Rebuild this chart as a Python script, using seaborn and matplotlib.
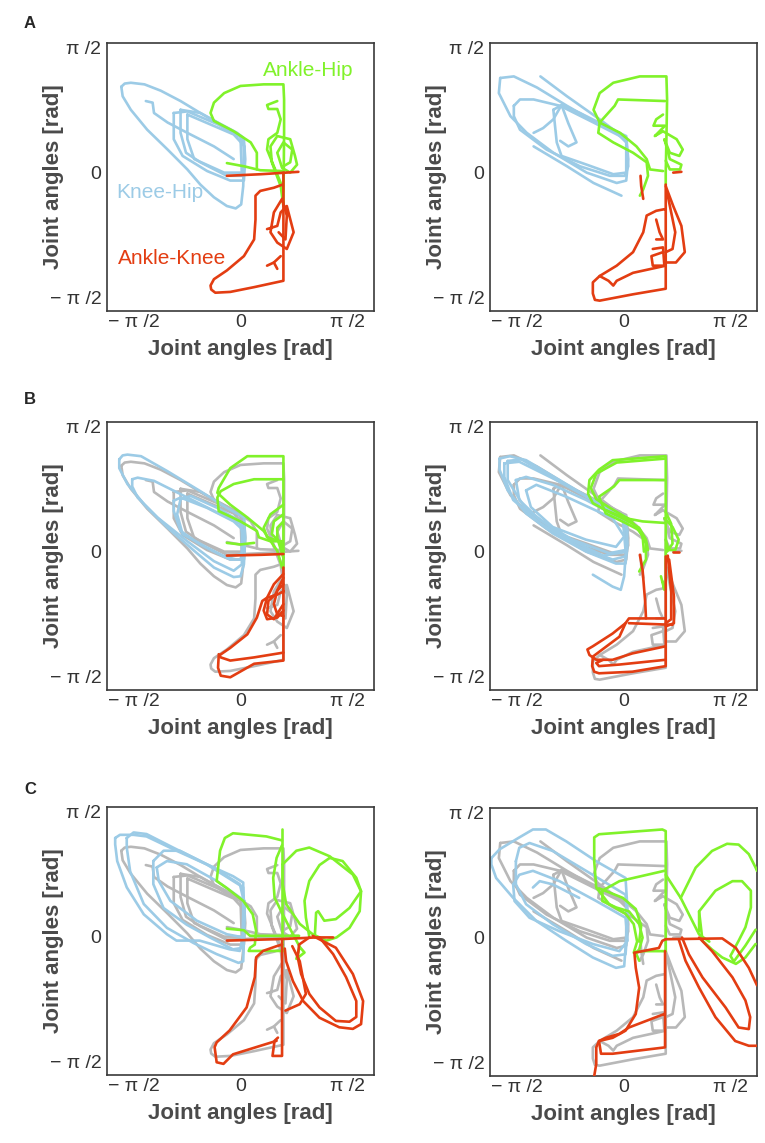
import numpy as np
import pandas as pd
import seaborn as sns
import matplotlib.pyplot as plt

# joint angle trajectories (rad)
# --- panel A, left ---
al_blue = [
    [(-1.75, 1.08), (-1.70, 1.12), (-1.61, 1.13), (-1.41, 1.11), (-1.17, 1.03), (-0.88, 0.90), (-0.59, 0.75),
     (-0.29, 0.61), (-0.05, 0.50), (0.04, 0.44), (0.05, 0.21), (0.04, -0.17), (0.01, -0.40), (-0.07, -0.45),
     (-0.20, -0.42), (-0.39, -0.31), (-0.59, -0.15), (-0.78, 0.04), (-1.07, 0.29), (-1.37, 0.54), (-1.61, 0.79),
     (-1.73, 0.96), (-1.75, 1.08)],
    [(-0.98, 0.75), (-0.78, 0.77), (-0.34, 0.61), (0.05, 0.42), (0.07, 0.17), (0.05, -0.10), (-0.15, -0.10),
     (-0.49, 0.02), (-0.85, 0.21), (-0.98, 0.42), (-0.98, 0.75)],
    [(-0.88, 0.79), (-0.59, 0.75), (0.00, 0.46), (0.02, -0.04), (-0.20, -0.04), (-0.59, 0.13), (-0.80, 0.25),
     (-0.88, 0.50), (-0.88, 0.79)],
    [(-0.78, 0.73), (-0.10, 0.48), (0.06, 0.33), (0.04, 0.00), (-0.24, 0.00), (-0.68, 0.17), (-0.78, 0.42),
     (-0.78, 0.73)],
    [(-1.39, 0.90), (-1.29, 0.88), (-1.27, 0.75), (-1.07, 0.63), (-0.78, 0.50), (-0.39, 0.33), (-0.10, 0.17)],
]
al_green = [
    [(0.63, -0.42), (0.64, 0.50), (0.64, 0.92), (0.63, 1.11), (0.34, 1.11), (0.00, 1.09), (-0.24, 1.00),
     (-0.39, 0.88), (-0.44, 0.75), (-0.39, 0.65), (-0.10, 0.52), (0.15, 0.38), (0.24, 0.25), (0.24, 0.04)],
    [(-0.20, 0.12), (0.05, 0.08), (0.29, 0.03), (0.63, 0.02)],
    [(0.54, 0.90), (0.39, 0.85), (0.41, 0.80), (0.54, 0.80), (0.59, 0.67), (0.54, 0.50), (0.41, 0.42),
     (0.39, 0.29), (0.49, 0.08), (0.61, -0.17), (0.63, -0.42), (0.59, -0.17), (0.46, 0.13), (0.44, 0.33),
     (0.54, 0.46), (0.73, 0.42), (0.80, 0.21), (0.83, 0.10), (0.73, 0.00), (0.61, 0.06), (0.54, 0.25),
     (0.63, 0.38), (0.76, 0.29), (0.73, 0.13), (0.63, 0.08)],
]
al_red = [
    [(-0.20, -0.04), (0.30, -0.02), (0.85, 0.01)],
    [(0.63, 0.00), (0.63, -0.60), (0.63, -1.36), (0.20, -1.44), (-0.15, -1.50), (-0.37, -1.51), (-0.43, -1.47),
     (-0.44, -1.42), (-0.39, -1.34), (-0.20, -1.23), (0.05, -1.05), (0.20, -0.84), (0.22, -0.59), (0.22, -0.29),
     (0.29, -0.23), (0.49, -0.19), (0.62, -0.15)],
    [(0.39, -0.71), (0.54, -0.67), (0.59, -0.50), (0.68, -0.42), (0.78, -0.75), (0.68, -0.96), (0.54, -0.88),
     (0.44, -0.75), (0.49, -0.50), (0.61, -0.33), (0.68, -0.54), (0.66, -0.84), (0.56, -0.75)],
    [(0.39, -1.17), (0.49, -1.13), (0.59, -1.05)],
    [(0.49, -1.13), (0.54, -1.21)],
]

# --- panel A, right ---
ar_blue = [
    [(-1.81, 1.19), (-1.61, 1.21), (-1.27, 1.07), (-0.83, 0.84), (-0.40, 0.63), (0.04, 0.46), (0.07, 0.17),
     (0.04, -0.10), (-0.10, -0.13), (-0.54, 0.00), (-1.03, 0.25), (-1.42, 0.50), (-1.66, 0.71), (-1.83, 1.00),
     (-1.81, 1.19)],
    [(-1.61, 0.84), (-1.52, 0.92), (-1.32, 0.92), (-0.93, 0.84), (-0.44, 0.63), (0.04, 0.42), (0.07, 0.08),
     (0.02, -0.04), (-0.20, -0.04), (-0.64, 0.08), (-1.13, 0.29), (-1.52, 0.54), (-1.61, 0.71), (-1.61, 0.84)],
    [(-1.03, 0.79), (-0.91, 0.85), (-0.64, 0.75), (-0.15, 0.54), (0.04, 0.38), (0.04, 0.00), (-0.15, -0.02),
     (-0.54, 0.10), (-0.91, 0.21), (-0.98, 0.38), (-1.03, 0.79)],
    [(-1.22, 1.21), (-0.83, 0.96), (-0.35, 0.67), (0.04, 0.42)],
    [(-0.03, -0.29), (-0.44, -0.13), (-0.83, 0.08), (-1.32, 0.33)],
    [(-1.32, 0.50), (-1.18, 0.56), (-1.03, 0.67), (-0.91, 0.85), (-0.81, 0.62), (-0.69, 0.38), (-0.81, 0.33),
     (-0.93, 0.40)],
]
ar_green = [
    [(0.62, -0.15), (0.62, 0.00), (0.63, 0.42), (0.64, 0.92), (0.63, 1.21), (0.24, 1.21), (-0.15, 1.13),
     (-0.35, 1.00), (-0.44, 0.79), (-0.35, 0.63), (-0.05, 0.50), (0.19, 0.33), (0.34, 0.17), (0.39, 0.04),
     (0.58, 0.02)],
    [(0.61, 0.90), (-0.08, 0.92), (-0.13, 0.84), (-0.35, 0.63), (-0.37, 0.50), (-0.15, 0.38), (0.14, 0.25),
     (0.34, 0.13), (0.36, -0.04), (0.29, -0.21), (0.24, -0.29)],
    [(0.58, 0.73), (0.48, 0.67), (0.44, 0.59), (0.61, 0.59), (0.46, 0.46), (0.58, 0.52), (0.78, 0.42),
     (0.87, 0.29), (0.82, 0.21), (0.68, 0.25), (0.60, 0.42), (0.64, 0.30), (0.68, 0.17), (0.85, 0.10),
     (0.83, 0.04), (0.68, 0.04), (0.62, 0.15)],
]
ar_red = [
    [(0.25, -0.04), (0.26, -0.17), (0.29, -0.33)],
    [(0.73, 0.00), (0.85, 0.01)],
    [(0.62, -0.15), (0.62, -0.80), (0.62, -1.46), (0.14, -1.53), (-0.35, -1.61), (-0.42, -1.60), (-0.45, -1.52),
     (-0.45, -1.38), (-0.35, -1.30), (-0.10, -1.17), (0.14, -1.00), (0.29, -0.75), (0.34, -0.54), (0.48, -0.48),
     (0.60, -0.46)],
    [(0.62, -1.17), (0.14, -1.26), (-0.10, -1.36), (-0.15, -1.42), (-0.22, -1.36), (-0.35, -1.30)],
    [(0.62, -0.17), (0.73, -0.42), (0.85, -0.67), (0.90, -1.00), (0.77, -1.13), (0.62, -1.13)],
    [(0.64, -0.25), (0.70, -0.50), (0.76, -0.75), (0.72, -0.96), (0.62, -1.00)],
    [(0.43, -0.96), (0.58, -0.94), (0.60, -1.17), (0.43, -1.17), (0.41, -1.05), (0.58, -1.00)],
    [(0.48, -0.59), (0.53, -0.75), (0.58, -0.84), (0.48, -0.84)],
]

# --- panel B, left ---
bl_blue = [
    [(-1.78, 1.16), (-1.73, 1.21), (-1.66, 1.22), (-1.46, 1.20), (-1.07, 1.01), (-0.59, 0.76), (-0.20, 0.55),
     (0.05, 0.43), (0.07, 0.18), (0.05, -0.16), (0.00, -0.31), (-0.10, -0.32), (-0.39, -0.20), (-0.68, 0.01),
     (-1.07, 0.30), (-1.41, 0.59), (-1.66, 0.85), (-1.78, 1.05), (-1.78, 1.16)],
    [(-1.59, 0.91), (-1.51, 0.93), (-1.27, 0.89), (-0.78, 0.68), (-0.29, 0.47), (0.02, 0.34), (0.02, -0.16),
     (-0.10, -0.24), (-0.39, -0.12), (-0.78, 0.13), (-1.22, 0.43), (-1.51, 0.68), (-1.59, 0.82), (-1.59, 0.91)],
    [(-0.88, 0.66), (-0.73, 0.70), (-0.34, 0.55), (0.00, 0.38), (0.05, 0.09), (0.00, -0.10), (-0.15, -0.10),
     (-0.49, 0.05), (-0.85, 0.22), (-0.93, 0.47), (-0.88, 0.66)],
    [(-0.98, 0.64), (-0.88, 0.68), (-0.49, 0.55), (-0.10, 0.38), (0.05, 0.26), (0.02, -0.03), (-0.20, -0.08),
     (-0.59, 0.09), (-0.88, 0.26), (-0.98, 0.51), (-0.98, 0.64)],
]
bl_green = [
    [(0.63, -0.20), (0.63, 0.40), (0.63, 1.20), (0.10, 1.20), (-0.15, 1.05), (-0.32, 0.80), (-0.34, 0.74),
     (-0.15, 0.59), (0.10, 0.43), (0.34, 0.26), (0.54, 0.01), (0.61, -0.20)],
    [(0.63, 0.91), (0.20, 0.91), (-0.10, 0.85), (-0.29, 0.76), (-0.34, 0.68), (-0.32, 0.51), (0.00, 0.38),
     (0.24, 0.26), (0.27, 0.18), (0.44, 0.13), (0.61, 0.13)],
    [(-0.20, 0.11), (0.00, 0.09), (0.20, 0.11)],
    [(0.63, 0.59), (0.44, 0.47), (0.34, 0.30), (0.39, 0.18), (0.58, 0.13), (0.63, 0.01)],
    [(0.63, 0.47), (0.49, 0.38), (0.46, 0.22), (0.61, 0.09)],
    [(0.63, 0.38), (0.54, 0.30), (0.54, 0.17), (0.63, -0.08)],
]
bl_red = [
    [(-0.20, -0.05), (0.30, -0.04), (0.63, -0.03)],
    [(0.63, -0.20), (0.63, -0.80), (0.63, -1.37), (0.20, -1.41), (-0.15, -1.58), (-0.29, -1.56), (-0.33, -1.46),
     (-0.32, -1.31), (-0.15, -1.21), (0.10, -1.04), (0.24, -0.83), (0.32, -0.62), (0.39, -0.58), (0.54, -0.54),
     (0.63, -0.50)],
    [(0.63, -1.27), (0.20, -1.33), (-0.15, -1.37), (-0.29, -1.33), (-0.32, -1.29)],
    [(0.63, -0.28), (0.49, -0.41), (0.39, -0.58), (0.34, -0.74), (0.39, -0.85), (0.54, -0.83), (0.63, -0.74)],
    [(0.63, -0.41), (0.54, -0.49), (0.49, -0.66), (0.54, -0.79), (0.63, -0.81)],
    [(0.63, -0.33), (0.51, -0.54), (0.41, -0.62), (0.39, -0.79), (0.49, -0.85), (0.63, -0.66)],
]

# --- panel B, right ---
br_blue = [
    [(-1.82, 1.17), (-1.67, 1.20), (-1.43, 1.15), (-0.94, 0.90), (-0.45, 0.65), (0.03, 0.44), (0.06, 0.10),
     (0.03, -0.15), (-0.11, -0.15), (-0.55, 0.00), (-1.04, 0.23), (-1.43, 0.48), (-1.70, 0.77), (-1.82, 1.03),
     (-1.82, 1.17)],
    [(-1.75, 1.11), (-1.53, 1.13), (-0.94, 0.88), (-0.06, 0.46), (0.06, 0.27), (0.03, -0.06), (-0.16, -0.10),
     (-0.65, 0.06), (-1.23, 0.36), (-1.62, 0.65), (-1.75, 0.94), (-1.75, 1.11)],
    [(-1.70, 1.14), (-1.50, 1.16), (-0.90, 0.86), (0.04, 0.42), (0.05, 0.00), (-0.30, -0.05), (-0.90, 0.20),
     (-1.45, 0.55), (-1.70, 0.90), (-1.70, 1.14)],
    [(-1.58, 0.90), (-1.43, 0.94), (-1.04, 0.84), (-0.55, 0.65), (-0.01, 0.40), (0.03, 0.02), (-0.21, -0.02),
     (-0.75, 0.15), (-1.23, 0.40), (-1.53, 0.65), (-1.58, 0.90)],
    [(-1.43, 0.77), (-1.28, 0.84), (-0.84, 0.69), (-0.16, 0.42), (0.01, 0.19), (-0.11, 0.06), (-0.55, 0.15),
     (-1.04, 0.31), (-1.36, 0.56), (-1.43, 0.77)],
    [(-0.45, -0.29), (-0.16, -0.44), (-0.04, -0.48), (0.01, -0.31), (0.03, -0.06)],
]
br_green = [
    [(0.62, -0.48), (0.62, -0.06), (0.62, 0.19), (0.62, 1.20), (-0.16, 1.15), (-0.36, 1.03), (-0.50, 0.90),
     (-0.52, 0.73), (-0.45, 0.61), (-0.26, 0.52), (0.03, 0.40), (0.23, 0.30), (0.33, 0.15), (0.36, 0.02)],
    [(0.60, 0.90), (-0.06, 0.90), (-0.14, 0.82), (-0.36, 0.69), (-0.26, 0.48), (0.03, 0.36), (0.23, 0.27),
     (0.33, 0.10), (0.33, -0.10), (0.23, -0.25)],
    [(0.62, 1.17), (-0.10, 1.12), (-0.40, 0.98), (-0.48, 0.80), (-0.40, 0.66), (-0.20, 0.55), (0.10, 0.40),
     (0.28, 0.20), (0.30, 0.00)],
    [(-0.26, 0.52), (0.03, 0.42), (0.28, 0.38), (0.62, 0.36)],
    [(0.60, 0.42), (0.72, 0.31), (0.81, 0.15), (0.76, 0.02), (0.66, 0.02), (0.62, 0.15)],
    [(0.62, 0.50), (0.70, 0.35), (0.72, 0.10), (0.64, 0.00)],
    [(0.55, -0.31), (0.60, -0.48), (0.58, -0.38)],
]
br_red = [
    [(0.24, -0.04), (0.28, -0.23), (0.30, -0.44), (0.32, -0.65), (0.33, -0.84)],
    [(0.62, -0.06), (0.62, -0.80), (0.62, -1.44), (0.13, -1.51), (-0.36, -1.53), (-0.43, -1.51), (-0.46, -1.44),
     (-0.45, -1.32), (-0.31, -1.23), (-0.06, -1.07), (0.03, -0.90), (0.08, -0.84), (0.62, -0.84)],
    [(0.62, -1.19), (0.13, -1.28), (-0.16, -1.36), (-0.40, -1.36), (-0.50, -1.30), (-0.53, -1.23),
     (-0.45, -1.19), (-0.16, -1.03), (0.03, -0.90)],
    [(0.62, -1.36), (-0.06, -1.42), (-0.36, -1.44), (-0.40, -1.40), (-0.30, -1.36)],
    [(0.67, -0.10), (0.74, -0.56), (0.74, -0.90), (0.62, -0.94)],
    [(0.65, -0.05), (0.70, -0.50), (0.70, -0.85), (0.62, -0.90)],
    [(0.08, -0.90), (0.72, -0.92)],
    [(0.72, 0.00), (0.82, 0.00)],
]

# --- panel C, left ---
cl_blue = [
    [(-1.84, 1.24), (-1.77, 1.28), (-1.57, 1.28), (-1.38, 1.26), (-0.94, 1.08), (-0.50, 0.91), (-0.11, 0.76),
     (0.04, 0.68), (0.04, 0.32), (0.03, -0.01), (-0.01, -0.18), (-0.16, -0.16), (-0.60, -0.05), (-0.94, -0.05),
     (-1.08, 0.03), (-1.42, 0.28), (-1.67, 0.62), (-1.81, 0.95), (-1.84, 1.16), (-1.84, 1.24)],
    [(-1.67, 1.24), (-1.57, 1.31), (-1.38, 1.29), (-0.99, 1.12), (-0.50, 0.91), (0.04, 0.62), (0.06, 0.24),
     (0.04, -0.31), (-0.03, -0.33), (-0.35, -0.22), (-0.69, -0.08), (-1.08, 0.11), (-1.42, 0.41), (-1.62, 0.82),
     (-1.67, 1.12), (-1.67, 1.24)],
    [(-1.28, 0.95), (-1.13, 1.08), (-0.89, 1.08), (-0.40, 0.87), (-0.01, 0.66), (0.06, 0.41), (0.04, -0.14),
     (-0.11, -0.16), (-0.45, -0.01), (-0.79, 0.15), (-1.13, 0.36), (-1.28, 0.66), (-1.28, 0.95)],
    [(-1.23, 0.87), (-1.08, 0.95), (-0.79, 0.91), (-0.35, 0.70), (0.06, 0.45), (0.04, -0.01), (-0.20, 0.03),
     (-0.64, 0.20), (-1.03, 0.45), (-1.20, 0.70), (-1.23, 0.87)],
]
cl_green = [
    [(0.61, 1.35), (0.61, 0.80), (0.61, -0.18)],
    [(0.61, 1.21), (0.38, 1.26), (-0.11, 1.30), (-0.23, 1.24), (-0.30, 1.08), (-0.35, 0.70), (-0.20, 0.61),
     (0.04, 0.45), (0.18, 0.28), (0.23, 0.07), (0.21, -0.10), (0.14, -0.14), (0.12, -0.18), (0.61, -0.18)],
    [(-0.20, 0.10), (0.05, 0.08), (0.14, 0.01), (0.86, 0.01)],
    [(0.61, 1.15), (0.53, 0.99), (0.48, 0.74), (0.50, 0.49), (0.62, 0.28), (0.77, 0.03), (0.87, -0.13),
     (0.82, -0.28), (0.94, -0.20), (0.87, -0.13)],
    [(0.62, 0.91), (0.82, 1.08), (1.01, 1.12), (1.31, 1.01), (1.65, 0.78), (1.77, 0.57), (1.75, 0.32),
     (1.60, 0.11), (1.41, -0.01), (1.26, -0.05), (1.06, 0.03), (0.87, 0.16), (0.67, 0.41), (0.62, 0.66),
     (0.62, 0.91)],
    [(1.31, 0.99), (1.50, 0.95), (1.70, 0.74), (1.77, 0.57), (1.60, 0.36), (1.40, 0.22), (1.23, 0.20),
     (1.14, 0.32), (1.11, 0.30), (1.09, -0.01)],
    [(1.31, 0.99), (1.16, 0.90), (1.01, 0.70), (0.94, 0.45), (0.96, 0.24), (1.01, 0.00)],
]
cl_red = [
    [(-0.20, -0.05), (0.62, -0.03), (1.11, -0.01), (1.36, -0.01)],
    [(0.61, -0.05), (0.61, -0.80), (0.61, -1.50), (0.47, -1.50), (0.50, -1.31), (0.55, -1.27)],
    [(0.53, -1.31), (-0.11, -1.48), (-0.25, -1.60), (-0.35, -1.58), (-0.38, -1.39), (-0.35, -1.33),
     (-0.16, -1.18), (0.09, -0.89), (0.21, -0.51), (0.23, -0.26), (0.33, -0.18), (0.53, -0.12), (0.61, -0.10)],
    [(1.06, 0.01), (1.40, -0.14), (1.65, -0.47), (1.80, -0.81), (1.77, -1.10), (1.65, -1.16), (1.45, -1.14),
     (1.16, -1.02), (0.92, -0.81), (0.77, -0.56), (0.67, -0.31), (0.65, -0.15)],
    [(1.16, -0.01), (1.36, -0.22), (1.55, -0.51), (1.70, -0.81), (1.70, -1.01), (1.60, -1.07), (1.40, -1.06),
     (1.16, -0.89), (1.01, -0.72), (0.89, -0.47), (0.84, -0.26), (0.86, -0.10), (1.01, -0.01)],
    [(0.76, -0.12), (0.87, -0.31), (0.96, -0.72), (0.87, -0.85), (0.66, -0.93)],
]

# --- panel C, right ---
cr_blue = [
    [(-1.94, 1.00), (-1.82, 1.11), (-1.53, 1.26), (-1.33, 1.36), (-1.14, 1.36), (-0.84, 1.21), (-0.40, 0.96),
     (0.03, 0.75), (0.06, 0.33), (0.03, -0.13), (0.01, -0.36), (-0.11, -0.38), (-0.45, -0.25), (-0.84, -0.04),
     (-1.28, 0.21), (-1.62, 0.50), (-1.87, 0.75), (-1.94, 0.92), (-1.94, 1.00)],
    [(-1.58, 0.96), (-1.53, 1.13), (-1.38, 1.19), (-1.04, 1.09), (-0.55, 0.84), (0.03, 0.54), (0.06, 0.13),
     (0.03, -0.21), (-0.16, -0.23), (-0.55, -0.08), (-1.04, 0.17), (-1.43, 0.42), (-1.58, 0.67), (-1.58, 0.96)],
    [(-1.62, 0.67), (-1.53, 0.79), (-1.33, 0.84), (-0.94, 0.71), (-0.40, 0.46), (0.03, 0.25), (0.06, -0.04),
     (-0.06, -0.17), (-0.45, -0.08), (-0.94, 0.08), (-1.38, 0.25), (-1.60, 0.46), (-1.62, 0.67)],
    [(-1.33, 0.63), (-1.23, 0.71), (-1.04, 0.67), (-0.65, 0.50)],
]
cr_green = [
    [(0.62, -0.17), (0.62, 0.96), (0.62, 1.34), (0.57, 1.36), (-0.36, 1.30), (-0.43, 1.26), (-0.43, 0.96),
     (-0.40, 0.63), (-0.21, 0.42), (0.03, 0.30), (0.15, 0.17), (0.20, -0.05), (0.15, -0.19), (0.28, -0.17),
     (0.62, -0.17)],
    [(0.60, 0.84), (-0.06, 0.71), (-0.31, 0.59), (-0.31, 0.46), (-0.11, 0.38), (0.08, 0.33), (0.23, 0.17),
     (0.28, 0.00), (0.23, -0.15), (0.18, -0.19), (0.23, -0.29)],
    [(-0.36, 0.62), (-0.01, 0.50), (0.18, 0.36), (0.26, 0.15), (0.23, -0.05)],
    [(0.62, 0.79), (0.84, 0.50), (1.01, 0.21), (1.11, 0.04), (1.26, -0.05)],
    [(0.84, 0.50), (1.06, 0.88), (1.30, 1.09), (1.52, 1.18), (1.69, 1.17), (1.84, 1.05), (1.94, 0.88),
     (1.96, 0.84)],
    [(1.11, 0.08), (1.11, 0.33), (1.35, 0.59), (1.60, 0.71), (1.74, 0.71), (1.87, 0.59), (1.87, 0.38),
     (1.79, 0.13), (1.69, -0.04), (1.57, -0.23), (1.62, -0.30), (1.79, -0.10), (1.94, 0.10)],
    [(1.11, 0.33), (1.16, -0.04), (1.30, -0.15), (1.45, -0.25), (1.65, -0.33), (1.79, -0.25), (1.94, -0.08)],
]
cr_red = [
    [(0.16, -0.19), (0.52, -0.13), (0.57, -0.04), (0.62, -0.02), (1.45, -0.01), (1.50, -0.04), (1.65, -0.13),
     (1.84, -0.38), (1.96, -0.60)],
    [(0.61, -0.17), (0.61, -0.80), (0.61, -1.38), (-0.16, -1.46), (-0.33, -1.46), (-0.36, -1.30), (-0.26, -1.26),
     (-0.06, -1.21), (0.08, -1.13), (0.60, -0.96)],
    [(0.16, -0.19), (0.18, -0.38), (0.23, -0.63), (0.18, -0.96), (0.03, -1.17), (-0.16, -1.26), (-0.36, -1.30),
     (-0.40, -1.38), (-0.40, -1.59), (-0.43, -1.74)],
    [(0.86, 0.00), (0.96, -0.21), (1.16, -0.50), (1.50, -0.88), (1.69, -1.13), (1.84, -1.15), (1.86, -1.00),
     (1.79, -0.79), (1.60, -0.50), (1.30, -0.17), (1.11, 0.00)],
    [(0.81, -0.02), (0.91, -0.29), (1.11, -0.63), (1.35, -1.00), (1.64, -1.30), (1.84, -1.36), (1.96, -1.36)],
]

labels_a = ["Ankle-Hip", "Knee-Hip", "Ankle-Knee"]
label_x = [1.00, -1.19, -1.00]
label_y = [1.28, -0.25, -1.08]
tick_vals = [-np.pi / 2, 0, np.pi / 2]
tick_text = ["\u2212 \u03c0 /2", "0", "\u03c0 /2"]

BLUE = "#9ccbe6"
GREEN = "#80f22a"
RED = "#e33d12"
GRAY = "#b8b8b8"


def paths_df(paths):
    rows = []
    for i, p in enumerate(paths):
        for x, y in p:
            rows.append((i, x, y))
    return pd.DataFrame(rows, columns=["path", "x", "y"])


def draw(ax, paths, color, z):
    sns.lineplot(data=paths_df(paths), x="x", y="y", units="path", estimator=None, sort=False,
                 color=color, lw=1.9, ax=ax, zorder=z, legend=False,
                 solid_joinstyle="round", solid_capstyle="round")


sns.set_style("white")
plt.rcParams["font.family"] = ["Liberation Sans", "DejaVu Sans"]

fig = plt.figure(figsize=(7.65, 11.43), dpi=100)
W, H = 765, 1143
boxes = {"AL": (107, 43), "AR": (490, 43), "BL": (107, 422), "BR": (490, 422),
         "CL": (107, 807), "CR": (490, 808)}

panels = {
    "AL": (al_blue, al_green, al_red, None),
    "AR": (ar_blue, ar_green, ar_red, None),
    "BL": (bl_blue, bl_green, bl_red, al_blue + al_green + al_red),
    "BR": (br_blue, br_green, br_red, ar_blue + ar_green + ar_red),
    "CL": (cl_blue, cl_green, cl_red, al_blue + al_green + al_red),
    "CR": (cr_blue, cr_green, cr_red, ar_blue + ar_green + ar_red),
}

axes = {}
for key, (px, py) in boxes.items():
    ax = fig.add_axes([px / W, 1 - (py + 268) / H, 267 / W, 268 / H])
    blue, green, red, gray = panels[key]
    if gray is not None:
        draw(ax, gray, GRAY, 1)
    draw(ax, blue, BLUE, 2)
    draw(ax, green, GREEN, 3)
    draw(ax, red, RED, 4)
    ax.set_xlim(-1.96, 1.96)
    ax.set_ylim(-1.74, 1.63)
    ax.set_xticks(tick_vals)
    ax.set_xticklabels(tick_text)
    ax.set_yticks(tick_vals)
    ax.set_yticklabels(tick_text)
    ax.tick_params(length=0, labelsize=14, labelcolor="#333333")
    ax.tick_params(axis="x", pad=2)
    ax.tick_params(axis="y", pad=4)
    for s in ax.spines.values():
        s.set_color("#3a3a3a")
        s.set_linewidth(1.2)
    ax.set_xlabel("Joint angles [rad]", fontsize=16, fontweight="bold", color="#4a4a4a", labelpad=6)
    ax.set_ylabel("Joint angles [rad]", fontsize=16, fontweight="bold", color="#4a4a4a")
    # y label sits over the tick label column, as in the original layout
    ax.yaxis.set_label_coords(-0.16, 0.5)
    axes[key] = ax

ax = axes["AL"]
for txt, x, y, c in zip(labels_a, label_x, label_y, [GREEN, BLUE, RED]):
    ax.text(x, y, txt, color=c, fontsize=15, ha="center", va="center")

for letter, y in zip(["A", "B", "C"], [24, 399, 789]):
    fig.text(30 / W, 1 - y / H, letter, fontsize=12, fontweight="bold", ha="center", va="center")

fig.savefig("out.png", dpi=100, facecolor="white")
